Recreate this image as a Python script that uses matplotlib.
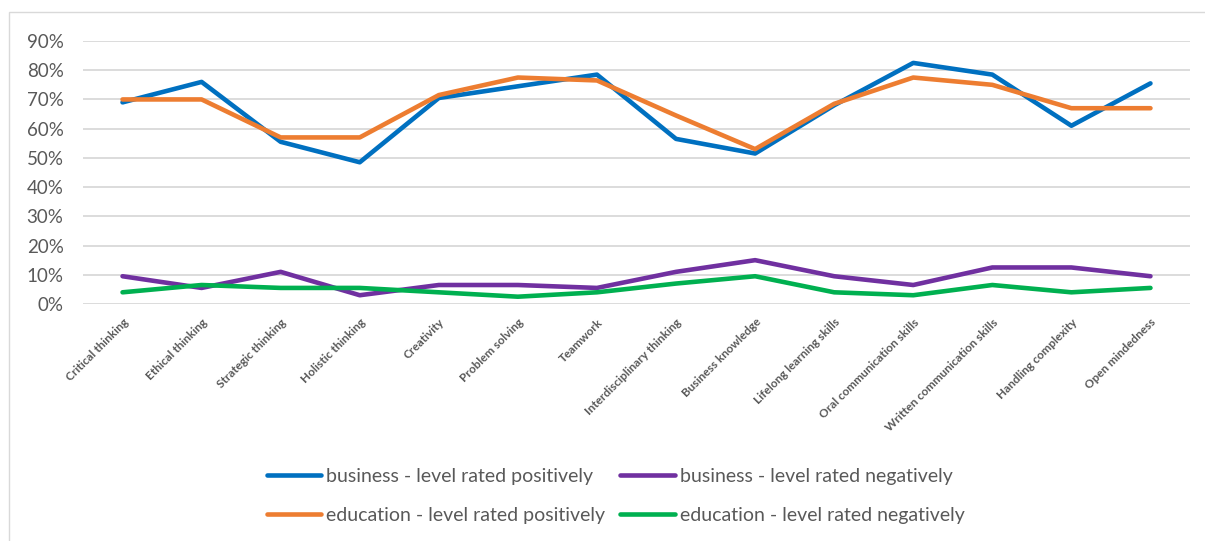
import matplotlib.pyplot as plt
from matplotlib.patches import Rectangle
from matplotlib.ticker import PercentFormatter

# skills rated by business and education respondents
skills = ["Critical thinking", "Ethical thinking", "Strategic thinking", "Holistic thinking",
          "Creativity", "Problem solving", "Teamwork", "Interdisciplinary thinking",
          "Business knowledge", "Lifelong learning skills", "Oral communication skills",
          "Written communication skills", "Handling complexity", "Open mindedness"]

business_pos = [69, 76, 55.5, 48.5, 70.5, 74.5, 78.5, 56.5, 51.5, 68, 82.5, 78.5, 61, 75.5]
business_neg = [9.5, 5.5, 11, 3, 6.5, 6.5, 5.5, 11, 15, 9.5, 6.5, 12.5, 12.5, 9.5]
education_pos = [70, 70, 57, 57, 71.5, 77.5, 76.5, 64.5, 53, 68.5, 77.5, 75, 67, 67]
education_neg = [4, 6.5, 5.5, 5.5, 4, 2.5, 4, 7, 9.5, 4, 3, 6.5, 4, 5.5]

yticks = [0, 10, 20, 30, 40, 50, 60, 70, 80, 90]

plt.rcParams["font.family"] = ["Lato", "DejaVu Sans"]
txt = "#595959"
grid = "#d9d9d9"

fig = plt.figure(figsize=(12.05, 5.41), dpi=100)

# outer chart frame
fig.patches.append(Rectangle((9 / 1205, -0.1), 1.2, 1 - 12 / 541 + 0.1,
                             transform=fig.transFigure, fill=False,
                             edgecolor=grid, linewidth=1))

ax = fig.add_axes([83 / 1205, 1 - 304 / 541, (1190 - 83) / 1205, (304 - 41) / 541])

x = list(range(len(skills)))
lw = 3.3
l1, = ax.plot(x, business_pos, color="#0070C0", lw=lw, solid_capstyle="round",
              label="business - level rated positively")
l2, = ax.plot(x, business_neg, color="#7030A0", lw=lw, solid_capstyle="round",
              label="business - level rated negatively")
l3, = ax.plot(x, education_pos, color="#ED7D31", lw=lw, solid_capstyle="round",
              label="education - level rated positively")
l4, = ax.plot(x, education_neg, color="#00B050", lw=lw, solid_capstyle="round",
              label="education - level rated negatively")

ax.set_xlim(-0.5, len(skills) - 0.5)
ax.set_ylim(0, 90)
ax.set_yticks(yticks)
ax.yaxis.set_major_formatter(PercentFormatter(decimals=0))
ax.grid(axis="y", color=grid, lw=1.3)
ax.set_axisbelow(True)
for s in ax.spines.values():
    s.set_visible(False)
ax.tick_params(axis="y", length=0, pad=14, labelsize=13.5, labelcolor=txt)
ax.tick_params(axis="x", length=0, pad=9)

ax.set_xticks(x)
ax.set_xticklabels(skills, rotation=45, ha="right", va="top",
                   rotation_mode="anchor", fontsize=8.5, fontweight="bold",
                   color=txt)

fig.legend(handles=[l1, l3, l2, l4], ncol=2, frameon=False,
           loc="center left", bbox_to_anchor=(267 / 1205, 1 - 496 / 541),
           fontsize=14, handlelength=2.8, handletextpad=0.26,
           columnspacing=0.75, labelspacing=1.15, borderpad=0, borderaxespad=0,
           labelcolor=txt)

fig.savefig("out.png", dpi=100)
